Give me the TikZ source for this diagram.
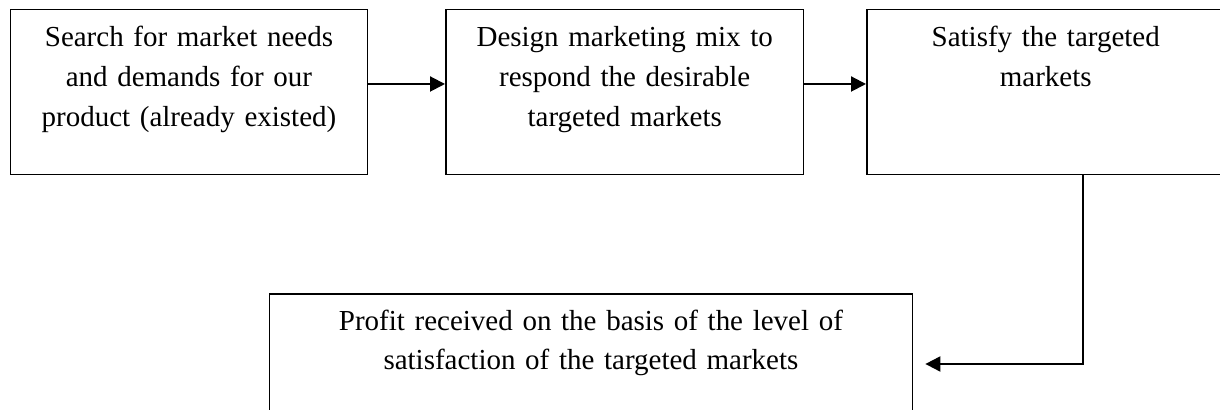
\documentclass[tikz,border=0pt]{standalone}
\usepackage{fontspec}
\setmainfont{Liberation Serif}
\usepackage{tikz}
\usetikzlibrary{calc,arrows.meta}
\tikzset{
	stage/.style={draw, line width=0.3mm, anchor=north west, inner sep=0pt, align=center, text height=0.74cm, text depth=2.56cm, font=\fontsize{16.5}{22.8}\selectfont},
	flow/.style={line width=0.4mm, -{Triangle[length=3mm,width=3mm]}}
}

\begin{document}
\begin{tikzpicture}[x=0.02cm, y=-0.02cm]
		%%%%% START %%%%%
		
		\useasboundingbox (0, 0) rectangle (1220, 409);
		
		\node[stage, text width=7.15cm] (search) at (9.5, 9) {Search for market needs\\and demands for our\\product (already existed)};
		\node[stage, text width=7.16cm] (design) at (445, 9) {Design marketing mix to\\respond the desirable\\targeted markets};
		\node[stage, text width=7.16cm] (satisfy) at (866, 9) {Satisfy the targeted\\markets};
		
		\node[stage, text width=12.87cm, font=\fontsize{16.5}{21.8}\selectfont] (profit) at (268.5, 293) {Profit received on the basis of the level of\\satisfaction of the targeted markets};
		
		\draw[flow] ([yshift=-1.5cm]search.north east) -- ([yshift=-1.5cm]design.north west);
		\draw[flow] ([yshift=-1.5cm]design.north east) -- ([yshift=-1.5cm]satisfy.north west);
		
		\coordinate (into) at ([xshift=0.24cm, yshift=-1.42cm]profit.north east);
		\draw[flow] ([xshift=0.74cm]satisfy.south) |- (into);
		
		%%%%% END %%%%%
	\end{tikzpicture}
\end{document}
